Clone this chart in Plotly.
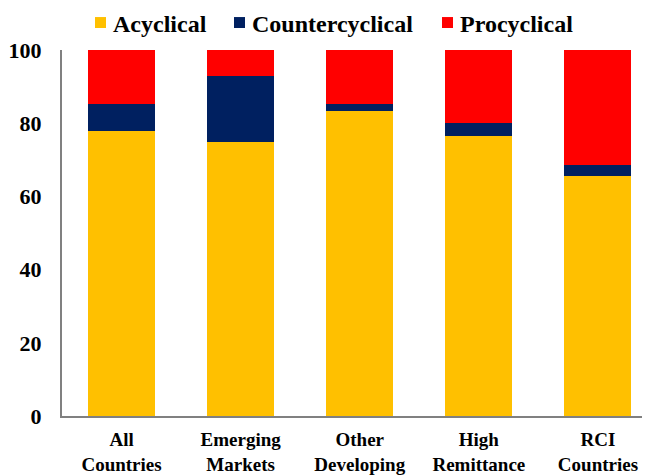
import plotly.graph_objects as go

categories = ["All<br>Countries", "Emerging<br>Markets", "Other<br>Developing", "High<br>Remittance", "RCI<br>Countries"]
acyclical = [77.9, 75.0, 83.2, 76.6, 65.7]
countercyclical = [7.3, 17.8, 2.0, 3.4, 2.8]
procyclical = [14.8, 7.2, 14.8, 20.0, 31.5]
series_names = ["Acyclical", "Countercyclical", "Procyclical"]
series_colors = ["#FFC000", "#002060", "#FF0000"]

font_family = "Times New Roman, Liberation Serif, serif"

W, H = 650, 475
L, R, T, B = 54, 8, 42, 66.5
PW, PH = W - L - R, H - T - B

def px_x(x):
    return (x - L) / PW

def px_y(y):
    return 1 + (T - y) / PH

fig = go.Figure()
for name, vals, col in zip(series_names, [acyclical, countercyclical, procyclical], series_colors):
    fig.add_bar(x=categories, y=vals, name=name, marker_color=col, marker_line_width=0)

# manual legend (positions in figure pixels)
legend_sq_x = [87, 226, 434]
legend_tx_x = [103, 242, 450]
shapes = []
annotations = []
for name, col, sx, tx in zip(series_names, series_colors, legend_sq_x, legend_tx_x):
    shapes.append(dict(type="rect", xref="paper", yref="paper",
                       x0=px_x(sx), x1=px_x(sx + 11), y0=px_y(9), y1=px_y(20),
                       fillcolor=col, line_width=0))
    annotations.append(dict(text="<b>" + name + "</b>", xref="paper", yref="paper",
                            x=px_x(tx), y=px_y(16), xanchor="left", yanchor="middle",
                            showarrow=False, font=dict(size=24, family=font_family, color="black")))

fig.update_layout(
    barmode="stack",
    bargap=0.4375,
    width=W, height=H,
    margin=dict(l=L, r=R, t=T, b=B, autoexpand=False),
    plot_bgcolor="white", paper_bgcolor="white",
    font=dict(family=font_family, color="black"),
    showlegend=False,
    shapes=shapes,
    annotations=annotations,
    xaxis=dict(range=[-0.5, 4.437], showline=True, linecolor="#808080", linewidth=2,
               ticks="", tickfont=dict(size=19, family=font_family), showgrid=False,
               automargin=False, ticklabelstandoff=5),
    yaxis=dict(range=[0, 100], dtick=20, showline=True, linecolor="#808080", linewidth=2,
               ticks="", tickfont=dict(size=22, family=font_family), showgrid=False,
               tickprefix="<b>", ticksuffix="</b>", ticklabelstandoff=14, automargin=False),
)
fig.update_xaxes(tickvals=categories,
                 ticktext=["<b>" + c.replace("<br>", "</b><br><b>") + "</b>" for c in categories])

fig.write_html("out.html")
